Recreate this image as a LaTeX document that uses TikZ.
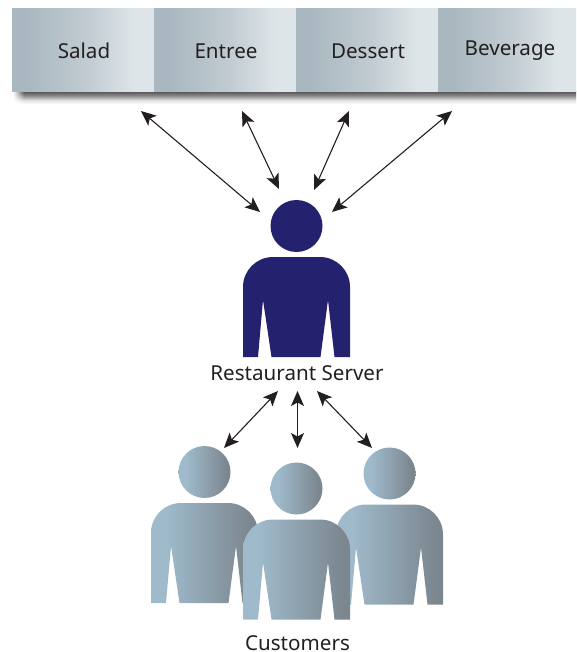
\documentclass[tikz,border=0pt]{standalone}
\usepackage{fontspec}
\setmainfont{Noto Sans}
\usetikzlibrary{arrows.meta,fadings}
\definecolor{navy}{HTML}{24216F}
\definecolor{ink}{HTML}{231F20}
\definecolor{pa}{HTML}{9FBACB}
\definecolor{pb}{HTML}{7B868E}
\definecolor{ba}{HTML}{A9B8C0}
\definecolor{bb}{HTML}{BFC9D0}
\definecolor{bc}{HTML}{DEE5E8}
\definecolor{sa}{HTML}{5A5A5A}
\definecolor{sb}{HTML}{8A8A8A}
\definecolor{sc}{HTML}{E4E4E4}
\pgfdeclarehorizontalshading{persongrad}{100bp}{color(0bp)=(pa); color(32bp)=(pa); color(72bp)=(pb); color(100bp)=(pb)}
\pgfdeclarehorizontalshading{bargrad}{100bp}{color(0bp)=(ba); color(30bp)=(ba); color(50bp)=(bb); color(68bp)=(bc); color(100bp)=(bc)}
\pgfdeclareverticalshading{shadowgrad}{100bp}{color(0bp)=(white); color(25bp)=(white); color(40bp)=(sc); color(60bp)=(sb); color(75bp)=(sa); color(100bp)=(sa)}
\tikzset{
  x=1pt,y=-1pt,
  menubox/.style={draw=none,shading=bargrad,minimum width=142pt,minimum height=83pt,inner sep=0pt,outer sep=0pt},
  lbl/.style={text=ink,font=\fontsize{20.6}{23}\selectfont,inner sep=0pt,anchor=base},
  link/.style={draw=ink,line width=1.1pt,{Stealth[length=15pt,width=13pt,inset=3.5pt]}-{Stealth[length=15pt,width=13pt,inset=3.5pt]}},
  solidp/.style={fill=navy,draw=none},
  gradp/.style={shading=persongrad,draw=none},
  pics/person/.style={code={
    \path[#1] (0,-31) circle[radius=26];
    \path[#1] (-53.5,100) -- (-53.5,30) arc[start angle=180,end angle=270,radius=30] -- (23.5,0)
      arc[start angle=270,end angle=360,radius=30] -- (53.5,100) -- (38,100) -- (31.5,43) -- (24,100)
      -- (-25,100) -- (-33.5,43) -- (-38.5,100) -- cycle;
  }}
}
\begin{document}
\begin{tikzpicture}
\useasboundingbox (0,0) rectangle (576,652);
% shadow
\path[shading=shadowgrad] (14,92) rectangle (576,104);
\fill[white,path fading=east] (13,92) rectangle (24,105);
% menu bar
\node[menubox] (salad) at (83,50.5) {};
\node[menubox] (entree) at (225,50.5) {};
\node[menubox] (dessert) at (367,50.5) {};
\node[menubox,minimum width=138pt] (beverage) at (507,50.5) {};
\node[lbl] (tsalad) at (84,58.5) {Salad};
\node[lbl] (tentree) at (226,58.5) {Entree};
\node[lbl] (tdessert) at (368,58.5) {Dessert};
\node[lbl] (tbeverage) at (510,55.5) {Beverage};
% people
\pic at (296.5,257) {person=solidp};
\pic at (204.5,503) {person=gradp};
\pic at (389.5,504.5) {person=gradp};
\pic at (296.5,519.5) {person=gradp};
\node[lbl] (server) at (297,380) {Restaurant Server};
\node[lbl] (customers) at (297.5,650) {Customers};
% connector ends
\coordinate (a1) at (141,111); \coordinate (s1) at (260,212);
\coordinate (a2) at (242,111); \coordinate (s2) at (279,189);
\coordinate (a3) at (349,111); \coordinate (s3) at (314,190);
\coordinate (a4) at (452,111); \coordinate (s4) at (332,212);
\coordinate (r1) at (278,391); \coordinate (c1) at (224,448);
\coordinate (r2) at (297.5,391); \coordinate (c2) at (297.5,448);
\coordinate (r3) at (317,391); \coordinate (c3) at (372,448);
\draw[link] (a1) -- (s1);
\draw[link] (a2) -- (s2);
\draw[link] (a3) -- (s3);
\draw[link] (a4) -- (s4);
\draw[link] (r1) -- (c1);
\draw[link] (r2) -- (c2);
\draw[link] (r3) -- (c3);
\end{tikzpicture}
\end{document}
